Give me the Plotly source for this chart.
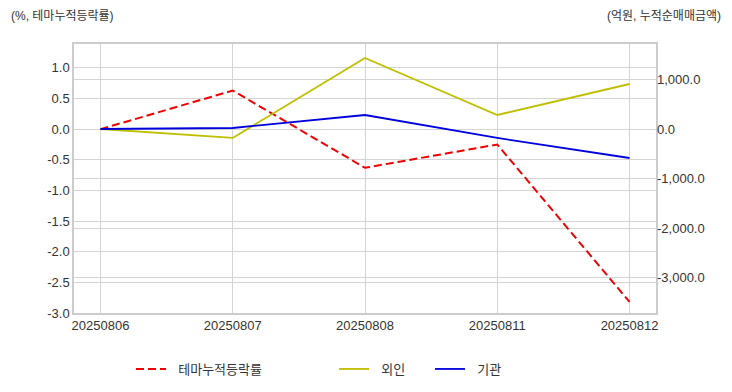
import plotly.graph_objects as go

dates = ["20250806", "20250807", "20250808", "20250811", "20250812"]
theme_rate = [0.0, 0.63, -0.63, -0.25, -2.82]
foreign = [0.0, -180.0, 1434.0, 283.0, 909.0]
institution = [0.0, 20.0, 283.0, -180.0, -586.0]
series_names = ["테마누적등락률", "외인", "기관"]

left_ticks = [-3.0, -2.5, -2.0, -1.5, -1.0, -0.5, 0.0, 0.5, 1.0]
right_ticks = [-3000, -2000, -1000, 0, 1000]

font_family = "Liberation Sans, Noto Sans CJK KR, sans-serif"
x = list(range(len(dates)))

# page body has an 8px margin; work in reference-pixel coordinates and shift
OFF = 8
W, H = 732 - 2 * OFF, 392 - 2 * OFF
L = 74 - OFF
T = 44 - OFF
R = W - (656 - OFF)
B = H - (313 - OFF)
PW, PH = W - L - R, H - T - B


def px_x(p):
    return (p - OFF - L) / PW


def px_y(p):
    return (H - B - (p - OFF)) / PH


pad = "\u00a0\u00a0"

fig = go.Figure()
fig.add_trace(go.Scatter(x=x, y=theme_rate, mode="lines", name=pad + series_names[0],
                         line=dict(color="#ee0000", width=2, dash="8px,4px"), yaxis="y",
                         legend="legend"))
fig.add_trace(go.Scatter(x=x, y=foreign, mode="lines", name=pad + series_names[1],
                         line=dict(color="#bfbf00", width=1.8), yaxis="y2",
                         legend="legend2"))
fig.add_trace(go.Scatter(x=x, y=institution, mode="lines", name=pad + series_names[2],
                         line=dict(color="#0000dd", width=1.8), yaxis="y2",
                         legend="legend3"))

leg_common = dict(orientation="h", yanchor="middle", xanchor="left", itemwidth=30,
                  font=dict(size=13, color="#333333"), bgcolor="rgba(0,0,0,0)")

fig.update_layout(
    width=W, height=H,
    margin=dict(l=L, r=R, t=T, b=B, autoexpand=False),
    paper_bgcolor="white", plot_bgcolor="white",
    font=dict(family=font_family, size=13, color="#333333"),
    showlegend=True,
    legend=dict(x=px_x(131), y=px_y(369), **leg_common),
    legend2=dict(x=px_x(334), y=px_y(369), **leg_common),
    legend3=dict(x=px_x(430), y=px_y(369), **leg_common),
    xaxis=dict(range=[-0.2, 4.2], tickvals=x, ticktext=dates, showgrid=True,
               gridcolor="#d4d4d4", gridwidth=1, zeroline=False, showline=True,
               linecolor="#cccccc", linewidth=1.5, mirror=True, ticks="",
               tickfont=dict(size=13), automargin=False),
    yaxis=dict(range=[-3.0, 1.39], tickvals=left_ticks,
               ticktext=[f"{v:.1f}" for v in left_ticks], showgrid=True,
               gridcolor="#d4d4d4", gridwidth=1, zeroline=False, showline=True,
               linecolor="#cccccc", linewidth=1.5, mirror=True, ticks="",
               tickfont=dict(size=13), automargin=False),
    yaxis2=dict(range=[-3717, 1717], overlaying="y", side="right", tickvals=right_ticks,
                ticktext=[f"{v:,.1f}" for v in right_ticks], showgrid=True,
                gridcolor="#d4d4d4", gridwidth=1, zeroline=False, showline=False,
                ticks="", tickfont=dict(size=13), automargin=False),
    annotations=[
        dict(text="(%, 테마누적등락률)", xref="paper", yref="paper", x=px_x(9), y=px_y(16),
             xanchor="left", yanchor="middle", showarrow=False, font=dict(size=12)),
        dict(text="(억원, 누적순매매금액)", xref="paper", yref="paper", x=px_x(723), y=px_y(16),
             xanchor="right", yanchor="middle", showarrow=False, font=dict(size=12)),
    ],
)

fig.write_html("out.html")
